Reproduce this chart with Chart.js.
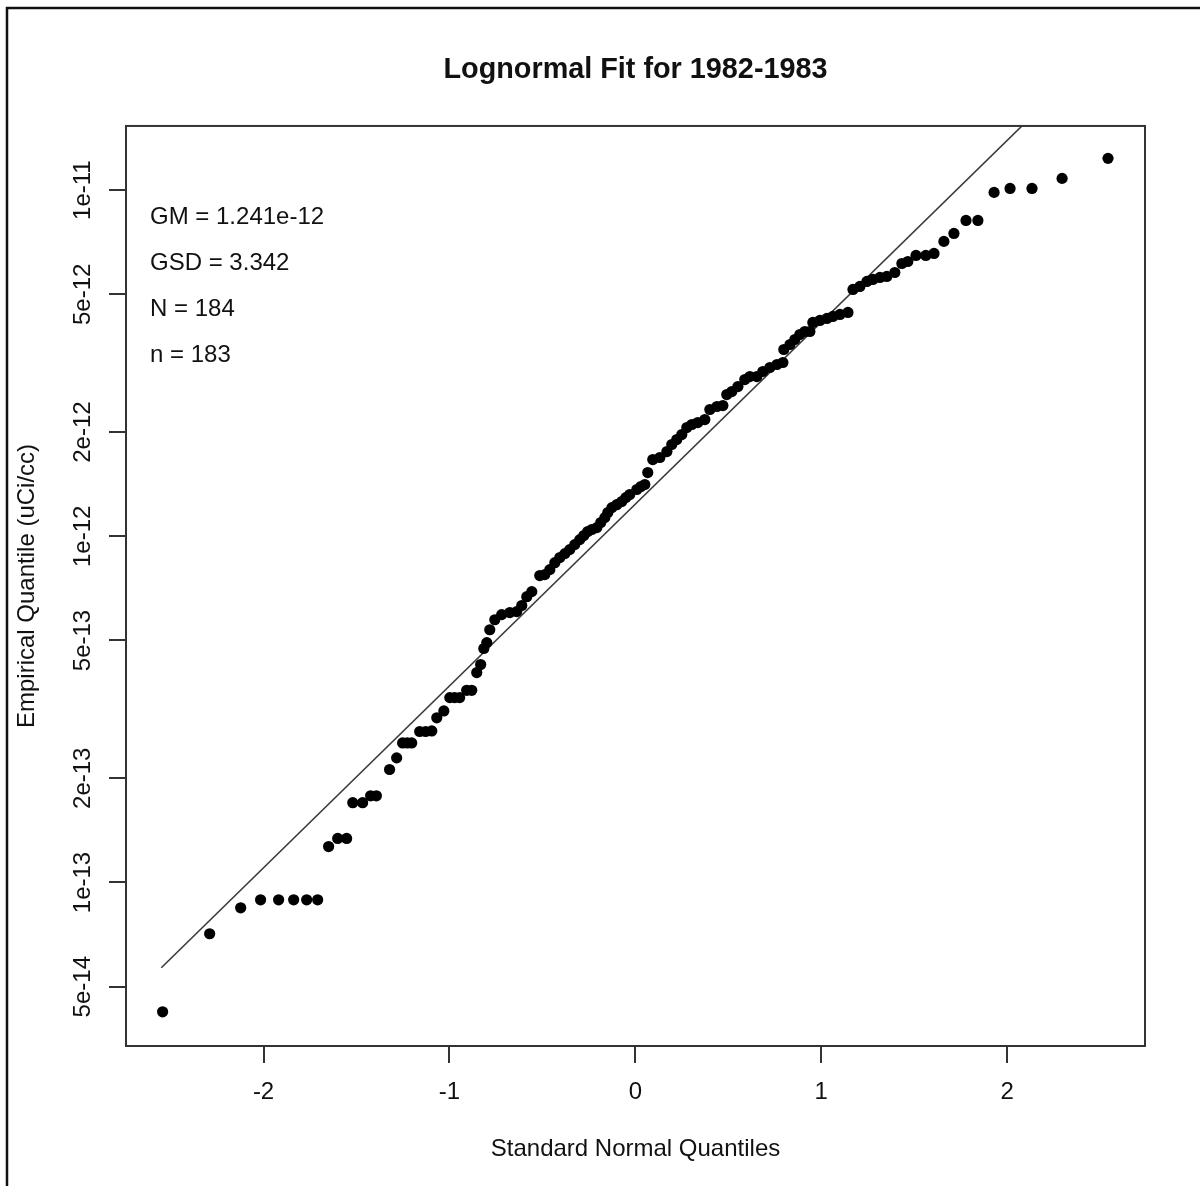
<!DOCTYPE html>
<html>
<head>
<meta charset="utf-8">
<title>Lognormal Fit for 1982-1983</title>
<script src="https://cdn.jsdelivr.net/npm/chart.js@4.4.1/dist/chart.umd.min.js"></script>
<style>
  html, body { margin: 0; padding: 0; background: #fff; }
  #chart { display: block; }
</style>
</head>
<body>
<canvas id="chart" width="1200" height="1186"></canvas>
<script>
// ─── Data ─────────────────────────────────────────────

// standard normal quantiles of the plotted observations
const quantiles = [
    -2.543, -2.290, -2.123, -2.016, -1.919, -1.838, -1.768, -1.709,
    -1.650, -1.601, -1.553,
    -1.520, -1.467, -1.424, -1.393, -1.322, -1.284,
    -1.252, -1.227, -1.203, -1.160, -1.128, -1.095,
    -1.068, -1.030, -0.998, -0.972, -0.945, -0.907, -0.880,
    -0.853, -0.832, -0.815, -0.799,
    -0.783, -0.756, -0.719, -0.675, -0.638, -0.611, -0.584, -0.557,
    -0.514, -0.487, -0.460, -0.433, -0.406, -0.379, -0.353, -0.326,
    -0.299, -0.277, -0.256, -0.234, -0.207, -0.186,
    -0.164, -0.148, -0.126, -0.100, -0.073, -0.051, -0.030, 0.008, 0.030, 0.051,
    0.067, 0.094, 0.132, 0.170, 0.196, 0.223, 0.250, 0.277, 0.304,
    0.336, 0.374, 0.401, 0.439, 0.471, 0.492, 0.519, 0.552, 0.589,
    0.616, 0.654, 0.686, 0.724, 0.762, 0.794, 0.799, 0.832, 0.858,
    0.885, 0.912, 0.939, 0.955, 0.993, 1.031, 1.063, 1.101, 1.144,
    1.171, 1.208, 1.246, 1.278, 1.316, 1.353, 1.396, 1.434, 1.466,
    1.510, 1.563, 1.607, 1.660, 1.714, 1.779, 1.843,
    1.930, 2.016, 2.134, 2.296, 2.543,
];

// empirical concentrations (uCi/cc), same order as quantiles
const concentrations = [
    4.23e-14, 7.11e-14, 8.45e-14, 8.91e-14, 8.91e-14, 8.91e-14, 8.91e-14, 8.91e-14,
    1.27e-13, 1.34e-13, 1.34e-13,
    1.70e-13, 1.70e-13, 1.78e-13, 1.78e-13, 2.12e-13, 2.29e-13,
    2.53e-13, 2.53e-13, 2.53e-13, 2.73e-13, 2.73e-13, 2.74e-13,
    2.99e-13, 3.13e-13, 3.42e-13, 3.42e-13, 3.42e-13, 3.59e-13, 3.59e-13,
    4.04e-13, 4.26e-13, 4.74e-13, 4.93e-13,
    5.37e-13, 5.74e-13, 5.94e-13, 6.02e-13, 6.06e-13, 6.31e-13, 6.69e-13, 6.92e-13,
    7.70e-13, 7.75e-13, 8.01e-13, 8.39e-13, 8.68e-13, 8.91e-13, 9.15e-13, 9.46e-13,
    9.78e-13, 1.005e-12, 1.032e-12, 1.046e-12, 1.059e-12, 1.096e-12,
    1.132e-12, 1.171e-12, 1.210e-12, 1.234e-12, 1.260e-12, 1.293e-12, 1.320e-12, 1.365e-12, 1.392e-12, 1.411e-12,
    1.528e-12, 1.666e-12, 1.689e-12, 1.757e-12, 1.841e-12, 1.903e-12, 1.967e-12, 2.061e-12, 2.103e-12,
    2.131e-12, 2.174e-12, 2.324e-12, 2.371e-12, 2.386e-12, 2.567e-12, 2.619e-12, 2.707e-12, 2.836e-12,
    2.893e-12, 2.893e-12, 2.992e-12, 3.073e-12, 3.135e-12, 3.177e-12, 3.464e-12, 3.581e-12, 3.702e-12,
    3.827e-12, 3.904e-12, 3.904e-12, 4.146e-12, 4.202e-12, 4.258e-12, 4.315e-12, 4.373e-12, 4.431e-12,
    5.164e-12, 5.268e-12, 5.446e-12, 5.519e-12, 5.593e-12, 5.630e-12, 5.781e-12, 6.138e-12, 6.220e-12,
    6.474e-12, 6.474e-12, 6.561e-12, 7.109e-12, 7.495e-12, 8.173e-12, 8.173e-12,
    9.848e-12, 1.011e-11, 1.011e-11, 1.081e-11, 1.235e-11,
];

// fitted lognormal line, end points as drawn
const fitLineX = [-2.55, 2.08];
const fitLineY = [5.67e-14, 1.532e-11];

const xTicks      = [-2, -1, 0, 1, 2];
const xTickLabels = ['-2', '-1', '0', '1', '2'];
const yTicks      = [5e-14, 1e-13, 2e-13, 5e-13, 1e-12, 2e-12, 5e-12, 1e-11];
const yTickLabels = ['5e-14', '1e-13', '2e-13', '5e-13', '1e-12', '2e-12', '5e-12', '1e-11'];

const fitStats = ['GM = 1.241e-12', 'GSD = 3.342', 'N = 184', 'n = 183'];

// ─── Style ────────────────────────────────────────────

const FONT  = '"Liberation Sans", Arial, Helvetica, sans-serif';
const INK   = '#111';
const FRAME = '#333';

// ─── Plugins ──────────────────────────────────────────

// page border, plot box and the fit statistics in the top-left corner
const framePlugin = {
    id: 'frame',
    beforeDraw(chart) {
        const { ctx } = chart;
        ctx.save();
        ctx.fillStyle = '#fff';
        ctx.fillRect(0, 0, chart.width, chart.height);
        ctx.strokeStyle = INK;
        ctx.lineWidth = 2.5;
        ctx.beginPath();
        ctx.moveTo(7, chart.height + 5);
        ctx.lineTo(7, 8);
        ctx.lineTo(chart.width + 5, 8);
        ctx.stroke();
        ctx.restore();
    },
    afterDraw(chart) {
        const { ctx, chartArea: a } = chart;
        ctx.save();
        ctx.strokeStyle = FRAME;
        ctx.lineWidth = 2;
        ctx.strokeRect(a.left, a.top, a.right - a.left, a.bottom - a.top);

        ctx.font = `24px ${FONT}`;
        ctx.fillStyle = INK;
        ctx.textBaseline = 'middle';
        ctx.textAlign = 'left';
        fitStats.forEach((s, i) => ctx.fillText(s, a.left + 24, a.top + 91 + i * 46));
        ctx.restore();
    },
};

// ─── Chart ────────────────────────────────────────────

const points = quantiles.map((q, i) => ({ x: q, y: concentrations[i] }));
const fitLine = fitLineX.map((q, i) => ({ x: q, y: fitLineY[i] }));

new Chart(document.getElementById('chart').getContext('2d'), {
    type: 'scatter',
    data: {
        datasets: [
            {
                data: points,
                backgroundColor: '#000',
                borderWidth: 0,
                pointRadius: 5.6,
                pointHoverRadius: 5.6,
            },
            {
                type: 'line',
                data: fitLine,
                borderColor: '#3a3a3a',
                borderWidth: 1.6,
                pointRadius: 0,
                fill: false,
                tension: 0,
            },
        ],
    },
    options: {
        responsive: false,
        animation: false,
        devicePixelRatio: 1,
        layout: { padding: { left: 0, top: 0, right: 55, bottom: 0 } },
        plugins: {
            legend:  { display: false },
            tooltip: { enabled: false },
            title: {
                display: true,
                text: 'Lognormal Fit for 1982-1983',
                fullSize: false,
                color: INK,
                font: { family: FONT, size: 28.8, weight: 'bold', lineHeight: 1.2 },
                padding: { top: 52.7, bottom: 38.7 },
            },
        },
        scales: {
            x: {
                type: 'linear',
                position: 'bottom',
                min: -2.74,
                max: 2.742,
                afterBuildTicks: s => { s.ticks = xTicks.map(v => ({ value: v })); },
                afterFit: s => { s.height = 140; },
                grid:   { display: true, drawOnChartArea: false, drawTicks: true, tickLength: 17, color: FRAME, lineWidth: 2 },
                border: { display: false },
                ticks: {
                    color: INK,
                    font: { family: FONT, size: 24, lineHeight: 1.2 },
                    padding: 14.6,
                    autoSkip: false,
                    maxRotation: 0,
                    callback: (v, i) => xTickLabels[i],
                },
                title: {
                    display: true,
                    text: 'Standard Normal Quantiles',
                    color: INK,
                    font: { family: FONT, size: 24, lineHeight: 1.2 },
                    padding: { top: 0, bottom: 22.6 },
                },
            },
            y: {
                type: 'logarithmic',
                position: 'left',
                min: 3.37e-14,
                max: 1.532e-11,
                afterBuildTicks: s => { s.ticks = yTicks.map(v => ({ value: v })); },
                afterFit: s => { s.width = 126; },
                grid:   { display: true, drawOnChartArea: false, drawTicks: true, tickLength: 17, color: FRAME, lineWidth: 2 },
                border: { display: false },
                ticks: {
                    color: INK,
                    font: { family: FONT, size: 24, lineHeight: 1.2 },
                    padding: -5,
                    autoSkip: false,
                    minRotation: 90,
                    maxRotation: 90,
                    crossAlign: 'center',
                    callback: (v, i) => yTickLabels[i],
                },
                title: {
                    display: true,
                    text: 'Empirical Quantile (uCi/cc)',
                    color: INK,
                    font: { family: FONT, size: 24, lineHeight: 1.2 },
                    padding: { top: 12.6, bottom: 0 },
                },
            },
        },
    },
    plugins: [framePlugin],
});
</script>
</body>
</html>
